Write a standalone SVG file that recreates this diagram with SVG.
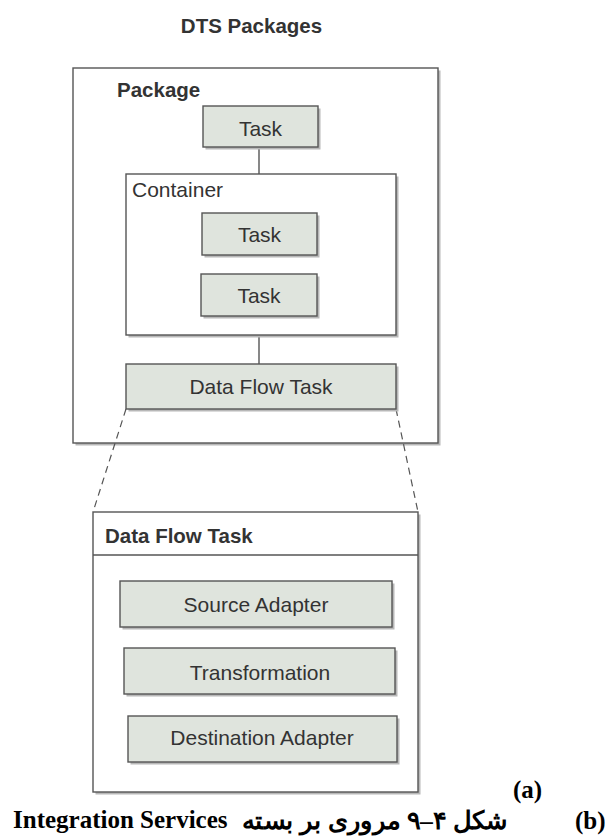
<svg xmlns="http://www.w3.org/2000/svg" width="605" height="836" viewBox="0 0 605 836">
<style>
.shadow{fill:#b8b8b8}
.frame{fill:#fff;stroke:#555;stroke-width:1.4}
.box{fill:#dfe4dd;stroke:#555;stroke-width:1.4}
.lbl{font-family:"Liberation Sans",Arial,sans-serif;font-size:21px;fill:#333;text-anchor:middle}
.title{font-family:"Liberation Sans",Arial,sans-serif;font-size:20.5px;font-weight:bold;fill:#333}
.conn{stroke:#555;stroke-width:1.4;fill:none}
.dash{stroke:#555;stroke-width:1.2;stroke-dasharray:7 5;fill:none}
.cap{font-family:"Liberation Serif","Times New Roman","DejaVu Serif",serif;font-weight:bold;font-size:25px;fill:#000}
</style>
<rect width="605" height="836" fill="#fff"/>
<text class="title" x="251.5" y="33" text-anchor="middle">DTS Packages</text>

<g id="package">
<rect class="shadow" x="75.5" y="70.5" width="365" height="375"/>
<rect class="frame" x="73" y="68" width="365" height="375"/>
<text class="title" x="117" y="97">Package</text>
</g>

<g id="connectors">
<line class="conn" x1="259" y1="147" x2="259" y2="174"/>
<line class="conn" x1="259" y1="335" x2="259" y2="364"/>
<line class="conn" x1="259" y1="627" x2="259" y2="648"/>
<line class="conn" x1="259" y1="694" x2="259" y2="716"/>
<line class="dash" x1="126" y1="409" x2="93" y2="512"/>
<line class="dash" x1="396" y1="409" x2="418" y2="512"/>
</g>

<g id="task1">
<rect class="shadow" x="205.5" y="108.5" width="115" height="41"/>
<rect class="box" x="203" y="106" width="115" height="41"/>
<text class="lbl" x="260.5" y="135.5" font-size="20">Task</text>
</g>

<g id="container">
<rect class="shadow" x="128.5" y="176.5" width="270" height="161"/>
<rect class="frame" x="126" y="174" width="270" height="161"/>
<text class="lbl" x="132" y="197" style="text-anchor:start">Container</text>
</g>

<g id="task2">
<rect class="shadow" x="204.5" y="215.5" width="115" height="42"/>
<rect class="box" x="202" y="213" width="115" height="42"/>
<text class="lbl" x="259.5" y="242" font-size="20">Task</text>
</g>

<g id="task3">
<rect class="shadow" x="203.5" y="276.5" width="116" height="42"/>
<rect class="box" x="201" y="274" width="116" height="42"/>
<text class="lbl" x="259" y="303" font-size="20">Task</text>
</g>

<g id="dataflowtask">
<rect class="shadow" x="128.5" y="366.5" width="270" height="45"/>
<rect class="box" x="126" y="364" width="270" height="45"/>
<text class="lbl" x="261" y="394">Data Flow Task</text>
</g>

<g id="dataflow-detail">
<rect class="shadow" x="95.5" y="514.5" width="325" height="280"/>
<rect class="frame" x="93" y="512" width="325" height="280"/>
<line class="conn" x1="93" y1="555" x2="418" y2="555"/>
<text class="title" x="105" y="543">Data Flow Task</text>
</g>

<g id="source">
<rect class="shadow" x="122.5" y="583.5" width="272" height="46"/>
<rect class="box" x="120" y="581" width="272" height="46"/>
<text class="lbl" x="256" y="612">Source Adapter</text>
</g>

<g id="transformation">
<rect class="shadow" x="126.5" y="650.5" width="271" height="46"/>
<rect class="box" x="124" y="648" width="271" height="46"/>
<text class="lbl" x="260" y="680">Transformation</text>
</g>

<g id="destination">
<rect class="shadow" x="130.5" y="718.5" width="269" height="46"/>
<rect class="box" x="128" y="716" width="269" height="46"/>
<text class="lbl" x="262" y="745">Destination Adapter</text>
</g>

<g id="caption">
<text class="cap" x="513" y="798" font-size="24">(a)</text>
<text class="cap" x="575" y="829" font-size="24">(b)</text>
<text class="cap" x="13" y="828">Integration Services</text>
<text class="cap" x="508" y="829" direction="rtl" text-anchor="start" font-size="28" font-family="'Liberation Serif','DejaVu Sans',serif" textLength="266" lengthAdjust="spacingAndGlyphs">شکل ۴–۹ مروری بر بسته</text>
</g>
</svg>
